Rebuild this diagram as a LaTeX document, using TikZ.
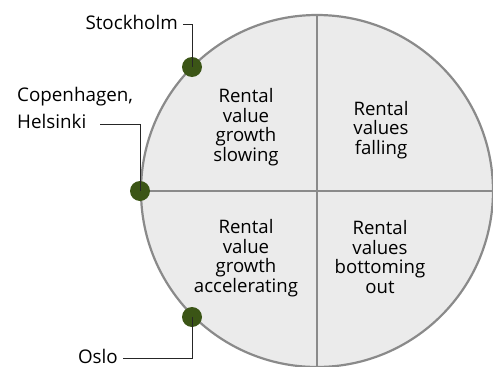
\documentclass[tikz,border=0pt]{standalone}
\usepackage{fontspec}
\setmainfont{Open Sans}
\begin{document}
\begin{tikzpicture}[x=1pt,y=-1pt,
  ring/.style={draw=ringgray,line width=2.2pt,fill=fillgray},
  divider/.style={draw=ringgray,line width=2.2pt},
  city/.style={circle,fill=citygreen,inner sep=0pt,minimum size=20pt},
  leader/.style={draw=black!85,line width=0.8pt},
  phase/.style={align=center,font=\fontsize{18.6}{19.6}\selectfont,inner sep=0pt},
  cityname/.style={font=\fontsize{18.8}{24}\selectfont,inner sep=0pt}]
\definecolor{ringgray}{HTML}{8A8A8A}
\definecolor{fillgray}{HTML}{EBEBEB}
\definecolor{citygreen}{HTML}{3B5516}
\useasboundingbox (0,0) rectangle (493,367);
% the cycle and its four quadrants
\coordinate (c) at (317,191);
\draw[ring] (c) circle (176);
\draw[divider] (317,15) -- (317,367);
\draw[divider] (141,191) -- (493,191);
% phase labels
\node[phase] (slow) at (246,127) {Rental\\value\\growth\\slowing};
\node[phase] (fall) at (381,130) {Rental\\values\\falling};
\node[phase] (accel) at (246,258) {Rental\\value\\growth\\accelerating};
\node[phase] (bottom) at (380,257) {Rental\\values\\bottoming\\out};
% city markers
\node[city] (sto) at (192,67) {};
\node[city] (cph) at (140,191) {};
\node[city] (osl) at (192,317) {};
% city names with leaders
\node[cityname,anchor=east] (stoname) at (178,22) {Stockholm};
\node[cityname,anchor=west] (cphname) at (17,97) {Copenhagen,};
\node[cityname,anchor=west] (helname) at (17,121) {Helsinki};
\node[cityname,anchor=east] (oslname) at (118,356) {Oslo};
\coordinate (stok) at (192,24);
\coordinate (cphk) at (140,124);
\coordinate (oslk) at (192,358);
\draw[leader] (183,24) -- (stok) -- (sto.center);
\draw[leader] (100,124) -- (cphk) -- (cph.center);
\draw[leader] (123,358) -- (oslk) -- (osl.center);
\end{tikzpicture}
\end{document}
